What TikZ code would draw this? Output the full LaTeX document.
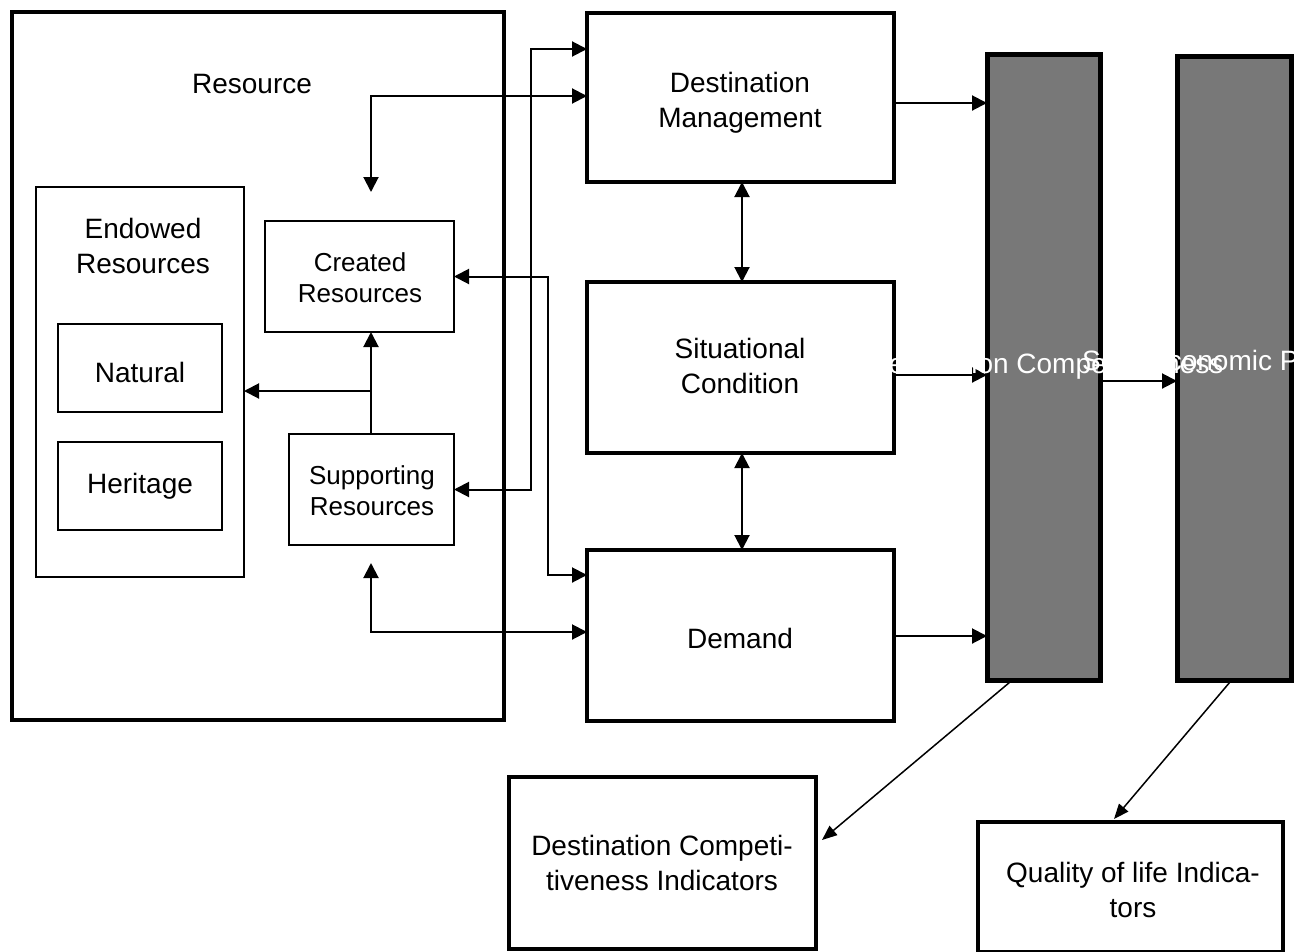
\documentclass[tikz,border=0pt]{standalone}
\usepackage{fontspec}
\setmainfont{Liberation Sans}
\usetikzlibrary{arrows.meta}
\definecolor{bargray}{HTML}{787878}
\begin{document}
\begin{tikzpicture}[x=1pt,y=-1pt,
  box/.style={draw, line width=#1, inner sep=0, outer sep=0, anchor=north west},
  box/.default=2pt,
  big/.style={font=\fontsize{28}{35}\selectfont, align=center, inner sep=0, anchor=base},
  mid/.style={font=\fontsize{26}{31}\selectfont, align=center, inner sep=0, anchor=base},
  wtxt/.style={font=\fontsize{28}{34}\selectfont, text=white, inner sep=0, anchor=base},
  arr/.style={line width=2pt, -{Triangle[length=15pt,width=15pt]}},
  dbl/.style={line width=2pt, {Triangle[length=15pt,width=15pt]}-{Triangle[length=15pt,width=15pt]}},
  diag/.style={line width=1.5pt, -{Triangle[length=15pt,width=12pt]}}
]
\useasboundingbox (0,0) rectangle (1307,951);
\clip (0,0) rectangle (1307,951);
\fill[white] (0,0) rectangle (1307,951);

% Resource area
\node[box=4pt, minimum width=492pt, minimum height=708pt] (res) at (12,12) {};
\node[big] (restxt) at (252,93) {Resource};
\node[box=2.5pt, minimum width=208pt, minimum height=390pt] (end) at (36,187) {};
\node[big] (endtxt) at (143,273) {Endowed\\Resources};
\node[box=2.5pt, minimum width=164pt, minimum height=88pt] (nat) at (58,324) {};
\node[big] (nattxt) at (140,382) {Natural};
\node[box=2.5pt, minimum width=164pt, minimum height=88pt] (her) at (58,442) {};
\node[big] (hertxt) at (140,493) {Heritage};
\node[box=2pt, minimum width=189pt, minimum height=111pt] (cre) at (265,221) {};
\node[mid] (cretxt) at (360,302) {Created\\Resources};
\node[box=2pt, minimum width=165pt, minimum height=111pt] (sup) at (289,434) {};
\node[mid] (suptxt) at (372,515) {Supporting\\Resources};

% Middle column
\node[box=4.5pt, minimum width=307pt, minimum height=169pt] (dm) at (587,13) {};
\node[big] (dmtxt) at (740,127) {Destination\\Management};
\node[box=4.5pt, minimum width=307pt, minimum height=171pt] (sit) at (587,282) {};
\node[big] (sittxt) at (740,393) {Situational\\Condition};
\node[box=4.5pt, minimum width=307pt, minimum height=171pt] (dem) at (587,550) {};
\node[big] (demtxt) at (740,648) {Demand};

% Bars
\node[box=5pt, fill=bargray, minimum width=113pt, minimum height=626pt] (bar1) at (987,54) {};
\node[box=5pt, fill=bargray, minimum width=114pt, minimum height=624pt] (bar2) at (1177,56) {};

% Indicator boxes
\node[box=4.5pt, minimum width=307pt, minimum height=172pt] (dci) at (509,777) {};
\node[big] (dcitxt) at (662,890) {Destination Competi-\\tiveness Indicators};
\node[box=4.5pt, minimum width=305pt, minimum height=130pt] (qli) at (978,822) {};
\node[big] (qlitxt) at (1133,917) {Quality of life Indica-\\tors};

% Connectors in the resource area
\coordinate (c1) at (531,49);
\draw[dbl] (sup.east) -| (c1) -- (c1 -| dm.west);
\coordinate (c2a) at (371,192);
\coordinate (c2) at (371,96);
\draw[dbl] (c2a) -- (c2) -- (c2 -| dm.west);
\coordinate (c3) at (548,575);
\draw[dbl] (cre.east) -| (c3) -- (c3 -| dem.west);
\coordinate (c4a) at (371,563);
\coordinate (c4) at (371,632);
\draw[dbl] (c4a) -- (c4) -- (c4 -| dem.west);
\coordinate (c5s) at (371,433);
\coordinate (c5) at (371,391);
\draw[arr] (c5s) -- (c5s |- cre.south);
\draw[arr] (c5) -- (c5 -| end.east);

% Middle connectors
\coordinate (v) at (742,0);
\draw[dbl] (v |- dm.south) -- (v |- sit.north);
\draw[dbl] (v |- sit.south) -- (v |- dem.north);
\coordinate (a8) at (0,103);
\coordinate (a9) at (0,375);
\coordinate (a10) at (0,636);
\coordinate (a11) at (0,381);
\draw[arr] (a8 -| dm.east) -- (a8 -| bar1.west);
\draw[arr] (a9 -| sit.east) -- (a9 -| bar1.west);
\draw[arr] (a10 -| dem.east) -- (a10 -| bar1.west);
\draw[arr] (a11 -| bar1.east) -- (a11 -| bar2.west);

% Diagonals
\coordinate (d1) at (1010,682);
\coordinate (t1) at (822,840);
\draw[diag] (d1) -- (t1);
\coordinate (d2) at (1230,682);
\coordinate (t2) at (1114,819);
\draw[diag] (d2) -- (t2);

% White bar texts (drawn last)
\node[wtxt] (bar1txt) at (1046,373) {Destination Competitiveness};
\node[wtxt, anchor=base west] (bar2txt) at (1082,370) {Socioeconomic Prosperity};
\end{tikzpicture}
\end{document}
